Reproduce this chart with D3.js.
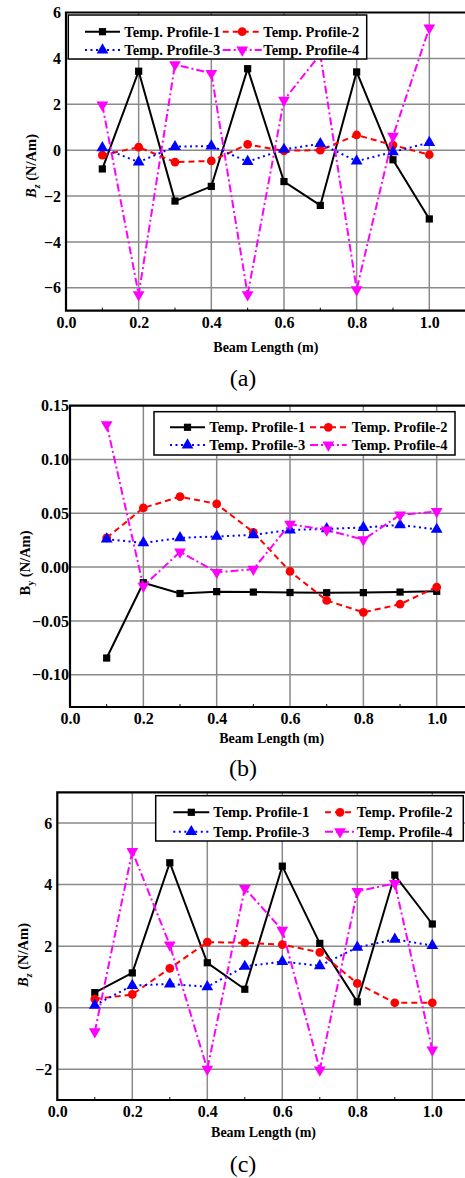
<!DOCTYPE html>
<html><head><meta charset="utf-8">
<script src="https://cdn.jsdelivr.net/npm/d3@7"></script>
<style>
html,body{margin:0;padding:0;background:#fff;}
svg{display:block;}
</style></head>
<body>
<svg id="chart" width="465" height="1178"></svg>
<script>
// ---------- DATA ----------
const beamLength = [0.1,0.2,0.3,0.4,0.5,0.6,0.7,0.8,0.9,1.0];
const seriesNames = ["Temp. Profile-1","Temp. Profile-2","Temp. Profile-3","Temp. Profile-4"];
const xTickValues = [0.0,0.2,0.4,0.6,0.8,1.0];

// Panel (a)  B_z
const aProfile1 = [-0.82, 3.44, -2.22, -1.58, 3.55, -1.37, -2.41, 3.41, -0.42, -3.0];
const aProfile2 = [-0.22, 0.13, -0.52, -0.47, 0.25, -0.03, 0.0, 0.66, 0.22, -0.2];
const aProfile3 = [0.1, -0.52, 0.15, 0.18, -0.5, 0.03, 0.28, -0.48, -0.08, 0.33];
const aProfile4 = [1.97, -6.3, 3.73, 3.35, -6.3, 2.18, 4.18, -6.08, 0.61, 5.33];
const aYTicks = [-6,-4,-2,0,2,4,6];

// Panel (b)  B_y
const bProfile1 = [-0.0845, -0.0145, -0.0245, -0.0228, -0.0232, -0.0236, -0.0238, -0.0237, -0.0232, -0.0225];
const bProfile2 = [0.0272, 0.055, 0.0655, 0.0587, 0.0324, -0.004, -0.031, -0.042, -0.0345, -0.0185];
const bProfile3 = [0.026, 0.0225, 0.0272, 0.0285, 0.030, 0.0345, 0.0355, 0.0368, 0.0392, 0.035];
const bProfile4 = [0.1325, -0.0178, 0.0142, -0.0048, -0.002, 0.040, 0.0345, 0.0255, 0.0485, 0.0518];
const bYTicks = [-0.10,-0.05,0.00,0.05,0.10,0.15];

// Panel (c)  B_z
const cProfile1 = [0.49, 1.13, 4.71, 1.46, 0.6, 4.6, 2.09, 0.19, 4.31, 2.72];
const cProfile2 = [0.28, 0.43, 1.28, 2.13, 2.11, 2.05, 1.8, 0.79, 0.16, 0.16];
const cProfile3 = [0.08, 0.72, 0.77, 0.68, 1.34, 1.5, 1.36, 1.96, 2.22, 2.02];
const cProfile4 = [-0.78, 5.08, 2.04, -2.0, 3.88, 2.52, -2.02, 3.78, 4.04, -1.37];
const cYTicks = [-2,0,2,4,6];

// ---------- STYLES ----------
const FONT = '"Liberation Serif", serif';
const styles = [
  {color:"#000000", dash:null, symbol:d3.symbolSquare, size:52, rot:0},
  {color:"#ff0000", dash:"6,4", symbol:d3.symbolCircle, size:60, rot:0},
  {color:"#0000ff", dash:"2,3.5", symbol:d3.symbolTriangle, size:60, rot:0},
  {color:"#ff00ff", dash:"8,3,2,3", symbol:d3.symbolTriangle, size:60, rot:180}
];

const svg = d3.select("#chart");

const panels = [
  {series:[aProfile1,aProfile2,aProfile3,aProfile4], yDomain:[-7,6], yTicks:aYTicks, fmt:d3.format("d"),
   left:66, xScaleW:363.3, top:12.5, bottom:310.7, ylabSub:"z", italic:true,
   ylabX:36, ylabY:166, xlabY:352, cap:"(a)", capY:386,
   leg:{x0:68.3,x1:366.7,y0:15,y1:59,rows:[31.7,50],c1:[85,120,124.3],c2:[222.7,261.7,263.3]}, tickGap:5},
  {series:[bProfile1,bProfile2,bProfile3,bProfile4], yDomain:[-0.13,0.15], yTicks:bYTicks, fmt:d3.format(".2f"),
   left:70, xScaleW:366.7, top:405.7, bottom:707, ylabSub:"y", italic:false,
   ylabX:30, ylabY:563, xlabY:743, cap:"(b)", capY:776,
   leg:{x0:154,x1:455,y0:411.7,y1:455,rows:[427.3,445],c1:[170,205,209.3],c2:[310,346.7,351.7]}, tickGap:1},
  {series:[cProfile1,cProfile2,cProfile3,cProfile4], yDomain:[-3,7], yTicks:cYTicks, fmt:d3.format("d"),
   left:57.3, xScaleW:375, top:792.3, bottom:1100, ylabSub:"z", italic:true,
   ylabX:28, ylabY:955, xlabY:1137, cap:"(c)", capY:1172,
   leg:{x0:155.7,x1:463.3,y0:795.7,y1:841,rows:[812.3,831.7],c1:[173.3,209.3,213.3],c2:[325,355,356.7]}, tickGap:5}
];

function marker(g, st, x, y){
  g.append("path")
    .attr("d", d3.symbol().type(st.symbol).size(st.size)())
    .attr("transform", `translate(${x},${y}) rotate(${st.rot})`)
    .attr("fill", st.color);
}

panels.forEach(p => {
  const x = d3.scaleLinear().domain([0,1]).range([p.left, p.left + p.xScaleW]);
  const xEnd = x(1.1);
  const y = d3.scaleLinear().domain(p.yDomain).range([p.bottom, p.top]);
  const g = svg.append("g");

  // grid
  g.selectAll(".vg").data(xTickValues.filter(v=>v>0)).enter().append("line")
    .attr("x1", d=>x(d)).attr("x2", d=>x(d)).attr("y1", p.top).attr("y2", p.bottom)
    .attr("stroke", "#8a8a8a").attr("stroke-width", 1.5);
  g.selectAll(".hg").data(p.yTicks.filter(v=>y(v) > p.top+2)).enter().append("line")
    .attr("x1", p.left).attr("x2", xEnd).attr("y1", d=>y(d)).attr("y2", d=>y(d))
    .attr("stroke", "#8a8a8a").attr("stroke-width", 1.5);

  // minor x ticks
  const minor = d3.range(0.1, 1.1, 0.2);
  g.selectAll(".mt").data(minor).enter().append("line")
    .attr("x1", d=>x(d)).attr("x2", d=>x(d)).attr("y1", p.bottom).attr("y2", p.bottom-3)
    .attr("stroke", "#000").attr("stroke-width", 1);

  // frame
  g.append("path")
    .attr("d", `M${xEnd},${p.top}H${p.left}V${p.bottom}H${xEnd}`)
    .attr("fill","none").attr("stroke","#000").attr("stroke-width",2.2);

  // axes labels via d3 axes
  const xAxis = d3.axisBottom(x).tickValues(xTickValues).tickFormat(d3.format(".1f")).tickSize(0).tickPadding(6);
  const xa = g.append("g").attr("transform", `translate(0,${p.bottom})`).call(xAxis);
  xa.select(".domain").remove();
  xa.selectAll("text").style("font-family", FONT).style("font-size","16px").style("font-weight","bold").attr("fill","#000");

  const yAxis = d3.axisLeft(y).tickValues(p.yTicks).tickFormat(p.fmt).tickSize(0).tickPadding(p.tickGap);
  const ya = g.append("g").attr("transform", `translate(${p.left},0)`).call(yAxis);
  ya.select(".domain").remove();
  ya.selectAll("text").style("font-family", FONT).style("font-size","16px").style("font-weight","bold").attr("fill","#000");

  // series
  const line = d3.line().x((d,i)=>x(beamLength[i])).y(d=>y(d));
  p.series.forEach((s, k) => {
    const st = styles[k];
    g.append("path").datum(s).attr("d", line).attr("fill","none")
      .attr("stroke", st.color).attr("stroke-width", 2)
      .attr("stroke-dasharray", st.dash);
    s.forEach((v,i) => marker(g, st, x(beamLength[i]), y(v)));
  });

  // legend
  const L = p.leg;
  g.append("rect").attr("x", L.x0).attr("y", L.y0).attr("width", L.x1-L.x0).attr("height", L.y1-L.y0)
    .attr("fill","#fff").attr("stroke","#000").attr("stroke-width",1.5);
  seriesNames.forEach((name,k) => {
    const st = styles[k];
    const row = L.rows[Math.floor(k/2)];
    const c = k%2===0 ? L.c1 : L.c2;
    g.append("line").attr("x1", c[0]).attr("x2", c[1]).attr("y1", row).attr("y2", row)
      .attr("stroke", st.color).attr("stroke-width", 2).attr("stroke-dasharray", st.dash);
    marker(g, st, (c[0]+c[1])/2, row);
    g.append("text").attr("x", c[2]).attr("y", row).attr("dy","0.35em")
      .style("font-family", FONT).style("font-weight","bold").style("font-size","14.5px").text(name);
  });

  // y label
  const yl = g.append("text").attr("transform", `translate(${p.ylabX},${p.ylabY}) rotate(-90)`)
    .attr("text-anchor","middle")
    .style("font-family", FONT).style("font-weight","bold").style("font-size","14.5px");
  yl.append("tspan").style("font-style", p.italic ? "italic" : "normal").text("B");
  yl.append("tspan").style("font-style", p.italic ? "italic" : "normal").style("font-size","10px").attr("dy",4).text(p.ylabSub);
  yl.append("tspan").attr("dy",-4).text(" (N/Am)");

  // x label
  g.append("text").attr("x", (p.left + xEnd)/2).attr("y", p.xlabY).attr("text-anchor","middle")
    .style("font-family", FONT).style("font-weight","bold").style("font-size","14px").text("Beam Length (m)");

  // caption
  g.append("text").attr("x", 243).attr("y", p.capY).attr("text-anchor","middle")
    .style("font-family", FONT).style("font-size","24px").text(p.cap);
});
</script>
</body></html>
